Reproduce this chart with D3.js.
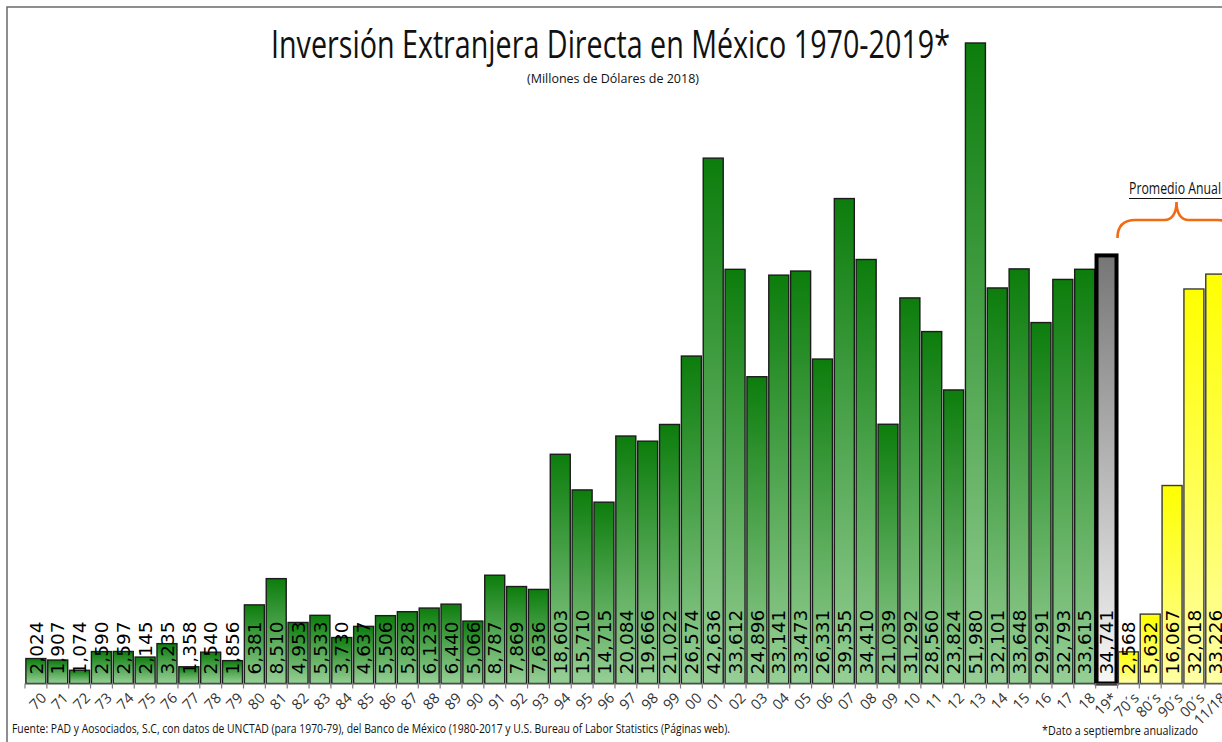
<!DOCTYPE html>
<html>
<head>
<meta charset="utf-8">
<script src="https://cdn.jsdelivr.net/npm/d3@7"></script>
<style>
  html, body { margin: 0; padding: 0; background: #fff; }
  svg { display: block; }
</style>
</head>
<body>
<svg id="chart" width="1222" height="742"></svg>
<script>
// Inversión Extranjera Directa en México, millones de dólares de 2018
const years = ["70","71","72","73","74","75","76","77","78","79",
               "80","81","82","83","84","85","86","87","88","89",
               "90","91","92","93","94","95","96","97","98","99",
               "00","01","02","03","04","05","06","07","08","09",
               "10","11","12","13","14","15","16","17","18"];
const yearValues = [2024,1907,1074,2590,2597,2145,3235,1358,2540,1856,
                    6381,8510,4953,5533,3730,4637,5506,5828,6123,6440,
                    5066,8787,7869,7636,18603,15710,14715,20084,19666,21022,
                    26574,42636,33612,24896,33141,33473,26331,39355,34410,21039,
                    31292,28560,23824,51980,32101,33648,29291,32793,33615];
const partialYear = "19*";
const partialValue = 34741;
const decades = ["70´s","80´s","90´s","00´s","11/18"];
const decadeValues = [2568,5632,16067,32018,33226];

const titleText = "Inversión Extranjera Directa en México 1970-2019*";
const subtitleText = "(Millones de Dólares de 2018)";
const sourceText = "Fuente: PAD y Aosociados, S.C, con datos de UNCTAD (para 1970-79),  del Banco de México (1980-2017 y U.S. Bureau of Labor Statistics (Páginas web).";
const noteText = "*Dato a septiembre anualizado";
const braceText = "Promedio Anual";

const rows = [
  ...years.map((c, i) => ({cat: c, value: yearValues[i], kind: "year"})),
  {cat: partialYear, value: partialValue, kind: "partial"},
  ...decades.map((c, i) => ({cat: c, value: decadeValues[i], kind: "decade"}))
];

const svg = d3.select("#chart");
const W = 1222, H = 742;
const baseY = 683.5;
const left = 25, step = 21.85;

const x = d3.scaleBand()
  .domain(rows.map(d => d.cat))
  .range([left, left + step * rows.length])
  .padding(0);

const y = d3.scaleLinear()
  .domain([0, d3.max(rows, d => d.value)])
  .range([baseY, 43]);

// gradients
const defs = svg.append("defs");
function grad(id, top, bottom) {
  const g = defs.append("linearGradient").attr("id", id)
    .attr("x1", 0).attr("y1", 0).attr("x2", 0).attr("y2", 1);
  g.append("stop").attr("offset", "0%").attr("stop-color", top);
  g.append("stop").attr("offset", "100%").attr("stop-color", bottom);
}
grad("gGreen", "#0c7d0c", "#96cf96");
grad("gGray", "#767676", "#f7f7f7");
grad("gYellow", "#ffff00", "#ffffa6");

// frame
svg.append("rect").attr("width", W).attr("height", H).attr("fill", "#fff");
svg.append("path")
  .attr("d", `M7,${H} L7,7 L${W},7`)
  .attr("fill", "none").attr("stroke", "#6a6a6a").attr("stroke-width", 1.5);

// title
svg.append("text")
  .attr("x", 271).attr("y", 58)
  .attr("textLength", 679).attr("lengthAdjust", "spacingAndGlyphs")
  .style("font-family", "'Open Sans', sans-serif")
  .style("font-size", "39px").attr("fill", "#111")
  .text(titleText);
svg.append("text")
  .attr("x", 527).attr("y", 83)
  .attr("textLength", 172).attr("lengthAdjust", "spacingAndGlyphs")
  .style("font-family", "'Open Sans', sans-serif")
  .style("font-size", "13px").attr("fill", "#111")
  .text(subtitleText);

// bars
const inset = step * 0.04, bw = step * 0.915;
const fillOf = k => k === "year" ? "url(#gGreen)" : k === "partial" ? "url(#gGray)" : "url(#gYellow)";
const strokeOf = k => k === "partial" ? "#000" : k === "decade" ? "#3a3a3a" : "#1c1c1c";
const swOf = k => k === "partial" ? 4 : 1.4;

svg.append("g").selectAll("rect")
  .data(rows).join("rect")
  .attr("x", d => x(d.cat) + inset)
  .attr("width", bw)
  .attr("y", d => y(d.value))
  .attr("height", d => baseY - y(d.value))
  .attr("fill", d => fillOf(d.kind))
  .attr("stroke", d => strokeOf(d.kind))
  .attr("stroke-width", d => swOf(d.kind));

// axis line and ticks at category boundaries
const bounds = rows.map(d => x(d.cat)).concat([x(rows[rows.length - 1].cat) + x.bandwidth()]);
svg.append("line")
  .attr("x1", left).attr("x2", W).attr("y1", baseY + 0.5).attr("y2", baseY + 0.5)
  .attr("stroke", "#7f7f7f").attr("stroke-width", 1.2);
svg.append("g").selectAll("line")
  .data(bounds).join("line")
  .attr("x1", d => d).attr("x2", d => d)
  .attr("y1", baseY).attr("y2", baseY + 5)
  .attr("stroke", "#7f7f7f").attr("stroke-width", 1.2);

// category labels
svg.append("g").selectAll("text")
  .data(rows).join("text")
  .attr("transform", d => `translate(${x(d.cat) + x.bandwidth() / 2 + 4},${baseY + 8}) rotate(-45)`)
  .attr("text-anchor", "end")
  .attr("dy", "0.72em")
  .style("font-family", "'Open Sans', sans-serif")
  .style("font-size", "14.5px").attr("fill", "#333")
  .text(d => d.cat);

// value labels
const fmt = d3.format(",");
svg.append("g").selectAll("text")
  .data(rows).join("text")
  .attr("transform", d => `translate(${x(d.cat) + x.bandwidth() / 2},${baseY - 9}) rotate(-90)`)
  .attr("text-anchor", "start")
  .attr("dy", "0.36em")
  .style("font-family", "'DejaVu Sans', sans-serif")
  .style("font-size", "18.5px").attr("fill", "#000")
  .text(d => fmt(d.value));

// brace over the decade averages
const bx = x(decades[0]);
const tipX = bx + step * 2.7;
const br = d3.path();
br.moveTo(bx, 238);
br.bezierCurveTo(bx, 226, bx + 6, 220, bx + 18, 220);
br.lineTo(tipX - 12, 220);
br.bezierCurveTo(tipX - 5, 220, tipX, 214, tipX, 202);
br.bezierCurveTo(tipX, 214, tipX + 5, 220, tipX + 12, 220);
br.lineTo(2 * tipX - bx - 18, 220);
br.bezierCurveTo(2 * tipX - bx - 6, 220, 2 * tipX - bx, 226, 2 * tipX - bx, 238);
svg.append("path").attr("d", br.toString())
  .attr("fill", "none").attr("stroke", "#f26b12").attr("stroke-width", 2.6);

svg.append("text")
  .attr("x", 1129).attr("y", 194)
  .attr("textLength", 92).attr("lengthAdjust", "spacingAndGlyphs")
  .style("font-family", "'Open Sans', sans-serif")
  .style("font-size", "15.5px").attr("fill", "#111")
  .text(braceText);
svg.append("line")
  .attr("x1", 1129).attr("x2", 1222).attr("y1", 198.5).attr("y2", 198.5)
  .attr("stroke", "#111").attr("stroke-width", 1);

// footnotes
svg.append("text")
  .attr("x", 12).attr("y", 732.5)
  .attr("textLength", 718).attr("lengthAdjust", "spacingAndGlyphs")
  .style("font-family", "'Open Sans', sans-serif")
  .style("font-size", "12.5px").attr("fill", "#111")
  .text(sourceText);
svg.append("text")
  .attr("x", 1042).attr("y", 735)
  .attr("textLength", 156).attr("lengthAdjust", "spacingAndGlyphs")
  .style("font-family", "'Open Sans', sans-serif")
  .style("font-size", "12.5px").attr("fill", "#111")
  .text(noteText);
</script>
</body>
</html>
